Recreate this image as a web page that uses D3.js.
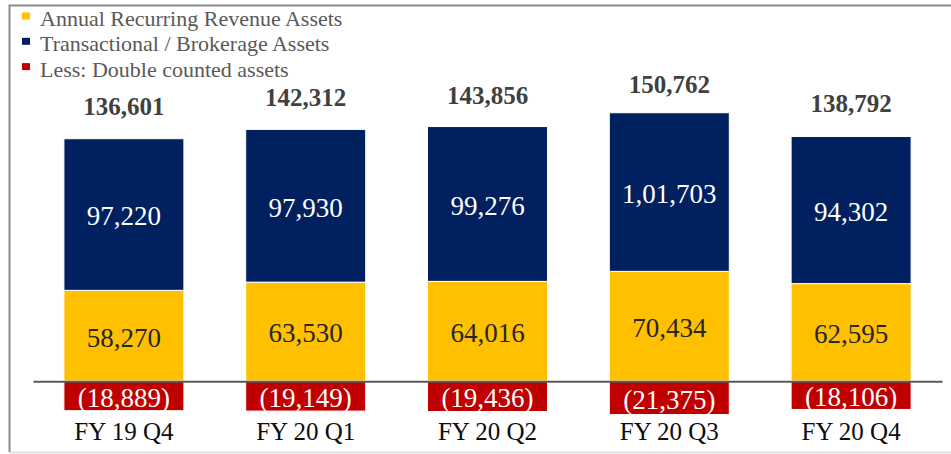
<!DOCTYPE html>
<html>
<head>
<meta charset="utf-8">
<script src="https://cdn.jsdelivr.net/npm/d3@7"></script>
<style>
    body { margin: 0; background: #fff; }
    svg { display: block; font-family: 'Liberation Serif', 'Times New Roman', serif; }
</style>
</head>
<body>
<svg id="assetsChart"></svg>
<script>
const quarters = ['FY 19 Q4', 'FY 20 Q1', 'FY 20 Q2', 'FY 20 Q3', 'FY 20 Q4'];
const recurringAssets = [58270, 63530, 64016, 70434, 62595];
const transactionalAssets = [97220, 97930, 99276, 101703, 94302];
const doubleCounted = [-18889, -19149, -19436, -21375, -18106];
const totalAssets = [136601, 142312, 143856, 150762, 138792];
const seriesNames = ['Annual Recurring Revenue Assets', 'Transactional / Brokerage Assets', 'Less: Double counted assets'];
const seriesColors = ['#ffc000', '#002060', '#c00000'];
const labelColors = ['#262626', '#ffffff', '#ffffff'];

(function () {
    'use strict';

    const width = 951;
    const height = 454;

    const fmt = d3.format(',');
    // lakh style grouping, the deck shows 1,01,703
    const indian = (v) => {
        const s = String(Math.abs(v));
        if (s.length <= 3) {
            return s;
        }
        const head = s.slice(0, -3).replace(/\B(?=(\d{2})+(?!\d))/g, ',');
        return head + ',' + s.slice(-3);
    };
    const formats = [
        (v) => fmt(v),
        (v) => indian(v),
        (v) => `(${fmt(Math.abs(v))})`
    ];

    let svg = d3.select('#assetsChart')
        .attr('width', width)
        .attr('height', height);

    // chart frame
    svg.append('path')
        .attr('d', 'M9.5,452 V5.5 H951')
        .attr('fill', 'none')
        .attr('stroke', '#8c8c8c')
        .attr('stroke-width', 2);
    svg.append('line')
        .attr('x1', 9).attr('x2', 951)
        .attr('y1', 452.5).attr('y2', 452.5)
        .attr('stroke', '#d9d9d9')
        .attr('stroke-width', 1.5);

    let x = d3.scaleBand()
        .domain(quarters)
        .range([33, 942])
        .paddingInner(0.34)
        .paddingOuter(0.17);

    let y = d3.scaleLinear()
        .domain([-30000, 180000])
        .range([428, 100.5]);

    let segments = [];
    quarters.forEach((q, i) => {
        segments.push({ q: q, s: 0, y0: 0, y1: recurringAssets[i], v: recurringAssets[i] });
        segments.push({ q: q, s: 1, y0: recurringAssets[i], y1: recurringAssets[i] + transactionalAssets[i], v: transactionalAssets[i] });
        segments.push({ q: q, s: 2, y0: doubleCounted[i], y1: 0, v: doubleCounted[i] });
    });

    let bar = svg.selectAll('.seg')
        .data(segments)
        .enter().append('g')
            .attr('class', 'seg');

    bar.append('rect')
        .attr('x', (d) => {
            return x(d.q);
        })
        .attr('y', (d) => {
            return y(d.y1);
        })
        .attr('width', x.bandwidth())
        .attr('height', (d) => {
            return y(d.y0) - y(d.y1);
        })
        .attr('fill', (d) => {
            return seriesColors[d.s];
        })
        .attr('stroke', '#ffffff')
        .attr('stroke-width', 1);

    bar.append('text')
        .attr('x', (d) => {
            return x(d.q) + x.bandwidth() / 2;
        })
        .attr('y', (d) => {
            return (y(d.y0) + y(d.y1)) / 2;
        })
        .attr('dy', '0.4em')
        .attr('text-anchor', 'middle')
        .attr('font-size', 27)
        .attr('fill', (d) => {
            return labelColors[d.s];
        })
        .text((d) => {
            return formats[d.s](d.v);
        });

    // totals sit a fixed distance above the net value
    svg.selectAll('.total')
        .data(totalAssets)
        .enter().append('text')
            .attr('class', 'total')
            .attr('x', (d, i) => {
                return x(quarters[i]) + x.bandwidth() / 2;
            })
            .attr('y', (d) => {
                return y(d) - 53;
            })
            .attr('text-anchor', 'middle')
            .attr('font-size', 25)
            .attr('font-weight', 'bold')
            .attr('fill', '#404040')
            .text((d) => {
                return fmt(d);
            });

    let axis = svg.append('g')
        .attr('transform', `translate(0, ${y(0)})`)
        .call(d3.axisBottom(x).tickSize(0).tickSizeOuter(0).tickPadding(41));

    axis.attr('font-family', null).attr('font-size', 25);
    axis.select('.domain')
        .attr('stroke', '#595959')
        .attr('stroke-width', 2);
    axis.selectAll('text')
        .attr('fill', '#0d0d0d');

    let legend = svg.selectAll('.legend')
        .data(seriesNames)
        .enter().append('g')
            .attr('class', 'legend')
            .attr('transform', (d, i) => {
                return `translate(0, ${i * 25.3})`;
            });

    legend.append('rect')
        .attr('x', 22)
        .attr('y', 12.5)
        .attr('width', 8)
        .attr('height', 7)
        .attr('fill', (d, i) => {
            return seriesColors[i];
        });

    legend.append('text')
        .attr('x', 40)
        .attr('y', 26)
        .attr('font-size', 22)
        .attr('fill', '#595959')
        .text((d) => {
            return d;
        });
})();
</script>
</body>
</html>
